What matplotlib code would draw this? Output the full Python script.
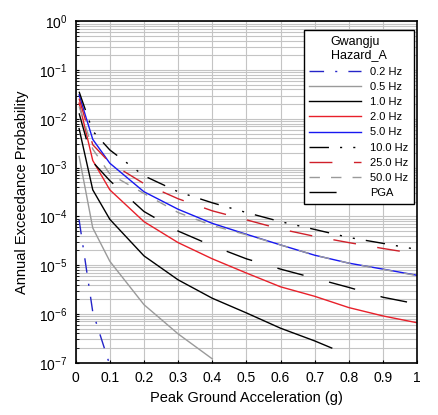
import numpy as np
import matplotlib
matplotlib.use('Agg')
import matplotlib.pyplot as plt
from matplotlib.ticker import LogLocator, NullFormatter

plt.rcParams['font.family'] = ['Liberation Sans', 'DejaVu Sans']
plt.rcParams['mathtext.default'] = 'regular'

# acceleration grids (g)
x_full = [0.01, 0.05, 0.1, 0.2, 0.3, 0.4, 0.5, 0.6, 0.7, 0.8, 0.9, 1.0]
x_02 = [0.01, 0.05, 0.1]
x_05 = [0.01, 0.05, 0.1, 0.2, 0.3, 0.4]
x_10 = [0.01, 0.05, 0.1, 0.2, 0.3, 0.4, 0.5, 0.6, 0.7, 0.75]
x_ticks = [0, 0.1, 0.2, 0.3, 0.4, 0.5, 0.6, 0.7, 0.8, 0.9, 1]
x_tick_labels = ['0', '0.1', '0.2', '0.3', '0.4', '0.5', '0.6', '0.7', '0.8', '0.9', '1']

# annual exceedance probabilities
p_02hz = [8.5e-5, 1.1e-6, 8.9e-8]
p_05hz = [1.7e-3, 5.8e-5, 1.2e-5, 1.55e-6, 3.9e-7, 1.2e-7]
p_10hz = [6.3e-3, 3.5e-4, 8.7e-5, 1.55e-5, 5.0e-6, 2.1e-6, 1.05e-6, 5.1e-7, 2.8e-7, 2.0e-7]
p_20hz = [2.1e-2, 1.4e-3, 3.5e-4, 7.8e-5, 2.9e-5, 1.35e-5, 6.9e-6, 3.6e-6, 2.3e-6, 1.35e-6, 9.1e-7, 6.6e-7]
p_50hz = [3.1e-2, 3.8e-3, 1.23e-3, 3.2e-4, 1.4e-4, 7.2e-5, 4.3e-5, 2.6e-5, 1.6e-5, 1.1e-5, 8.3e-6, 6.2e-6]
p_100hz = [3.6e-2, 5.6e-3, 2.3e-3, 6.8e-4, 3.2e-4, 1.9e-4, 1.2e-4, 7.8e-5, 5.4e-5, 3.7e-5, 2.8e-5, 2.1e-5]
p_250hz = [2.6e-2, 2.95e-3, 1.26e-3, 4.7e-4, 2.3e-4, 1.3e-4, 8.5e-5, 5.5e-5, 3.9e-5, 2.9e-5, 2.2e-5, 1.7e-5]
p_500hz = [1.8e-2, 2.4e-3, 7.4e-4, 2.95e-4, 1.2e-4, 6.5e-5, 4.2e-5, 2.6e-5, 1.6e-5, 1.1e-5, 8.2e-6, 6.1e-6]
p_pga = [1.3e-2, 1.3e-3, 5.4e-4, 1.26e-4, 5.0e-5, 2.5e-5, 1.35e-5, 8.3e-6, 5.4e-6, 3.5e-6, 2.2e-6, 1.6e-6]

fig = plt.figure(figsize=(4.38, 4.15), dpi=100)
ax = fig.add_axes([0.1728, 0.126, 0.7794, 0.8227])

lw = 1.0
ax.plot(x_02, p_02hz, color='#2424c8', lw=lw, linestyle=(0, (10.5, 8, 1.5, 8)), label='0.2 Hz')
ax.plot(x_05, p_05hz, color='#9a9a9a', lw=lw, label='0.5 Hz')
ax.plot(x_10, p_10hz, color='black', lw=lw, label='1.0 Hz')
ax.plot(x_full, p_20hz, color='#e8202a', lw=lw, label='2.0 Hz')
ax.plot(x_full, p_50hz, color='#1818f0', lw=lw, label='5.0 Hz')
ax.plot(x_full, p_100hz, color='black', lw=lw, linestyle=(0, (14, 8, 1.5, 8, 1.5, 8)), label='10.0 Hz')
ax.plot(x_full, p_250hz, color='#d0202a', lw=lw, linestyle=(0, (16.5, 15.5)), label='25.0 Hz')
ax.plot(x_full, p_500hz, color='#9a9a9a', lw=lw, linestyle=(0, (7.5, 8)), label='50.0 Hz')
ax.plot(x_full, p_pga, color='black', lw=lw, linestyle=(0, (19.5, 19)), label='PGA')

ax.set_yscale('log')
ax.set_xlim(0, 1)
ax.set_ylim(1e-7, 1)
ax.set_xticks(x_ticks)
ax.set_xticklabels(x_tick_labels)
ax.yaxis.set_major_locator(LogLocator(base=10, numticks=10))
ax.yaxis.set_minor_locator(LogLocator(base=10, subs=np.arange(2, 10), numticks=100))
ax.yaxis.set_minor_formatter(NullFormatter())

ax.grid(True, which='major', color='#c4c4c4', lw=0.8)
ax.grid(True, which='minor', axis='y', color='#c4c4c4', lw=0.8)
ax.set_axisbelow(True)
ax.tick_params(which='both', direction='in', length=2.5, labelsize=10)
ax.tick_params(which='major', pad=6)
for s in ax.spines.values():
    s.set_linewidth(1.2)

ax.set_xlabel('Peak Ground Acceleration (g)', fontsize=10.5, labelpad=4)
ax.set_ylabel('Annual Exceedance Probability', fontsize=10.5, labelpad=7)

leg = ax.legend(title='Gwangju\nHazard_A', loc='upper right', bbox_to_anchor=(0.991, 0.9745),
                fontsize=8, title_fontsize=9, frameon=True, fancybox=False, framealpha=1,
                edgecolor='black', handlelength=4.7, handletextpad=0.8, labelspacing=0.47,
                borderpad=0.5, borderaxespad=0)
leg.get_frame().set_linewidth(1.0)

fig.savefig('out.png', dpi=100)
